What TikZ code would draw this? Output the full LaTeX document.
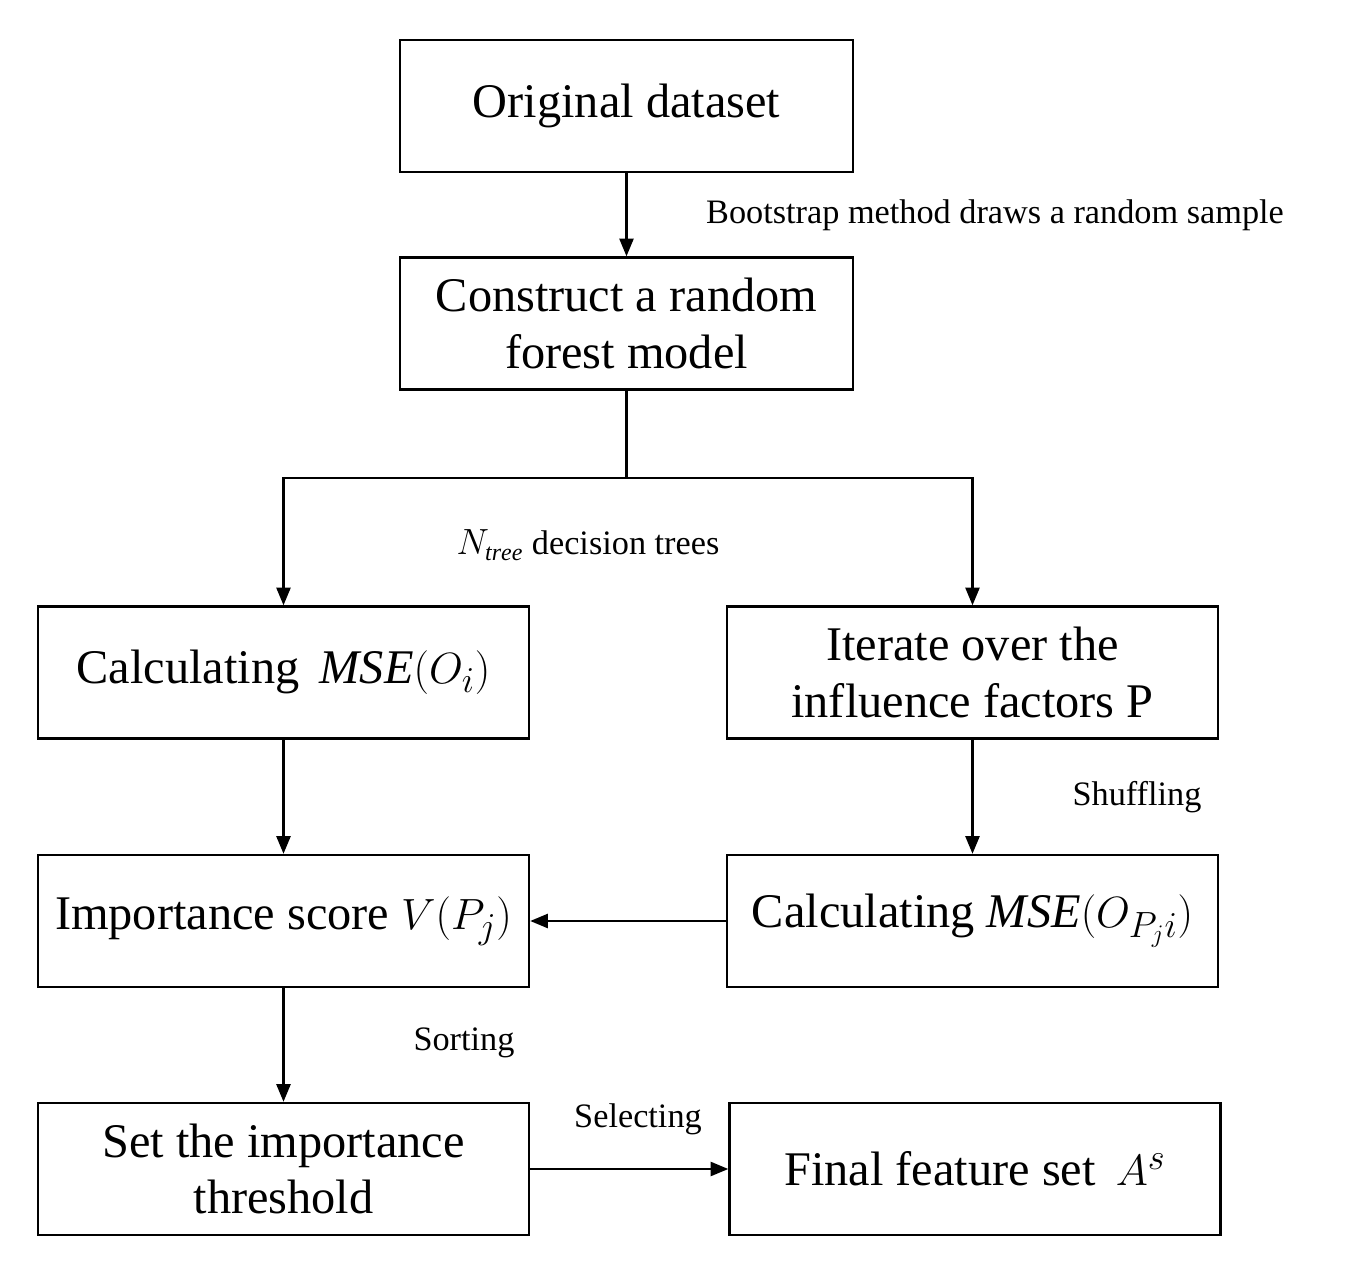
\documentclass[tikz,border=0pt]{standalone}
\usepackage{fontspec}
\setmainfont{Liberation Serif}
\usetikzlibrary{arrows.meta}
\usetikzlibrary{positioning}
\tikzset{%
    box/.style={rectangle, draw, line width=1.4pt, minimum width=9.82cm, minimum height=2.64cm, align=center, font=\fontsize{27.5}{32}\selectfont},
    lbl/.style={font=\fontsize{19.5}{23}\selectfont},
    arrow/.style={draw, line width=1.2pt, -{Triangle[length=10pt, width=8pt]}}
}
\begin{document}
\begin{tikzpicture}
            \useasboundingbox (0,0) rectangle (26.92,-25.58);

            % Top
            \node[box, minimum width=9.06cm] (orig) at (12.53, -2.12) {Original dataset};
            \node[box, minimum width=9.06cm] (rf) at (12.53, -6.47) {Construct a random\\forest model};
            \draw [arrow] (orig) -- (rf);
            \node[lbl] (boot) at (19.9, -4.3) {Bootstrap method draws a random sample};

            % Middle row
            \node[box] (mse) at (5.67, -13.45) {Calculating \,$\mathit{MSE}(O_i)$};
            \node[box] (iter) at (19.45, -13.45) {Iterate over the\\influence factors P};
            \coordinate (split) at (12.53, -9.56);
            \draw [line width=1.2pt] (rf) -- (split);
            \draw [arrow] (split) -| (mse);
            \draw [arrow] (split) -| (iter);
            \node[lbl] (ntree) at (11.76, -10.9) {$N_{\mathit{tree}}$ decision trees};

            % Scores
            \node[box] (score) at (5.67, -18.42) {Importance score $V(P_j)$};
            \node[box] (msep) at (19.45, -18.42) {Calculating $\mathit{MSE}(O_{P_j i})$};
            \draw [arrow] (mse) -- (score);
            \draw [arrow] (iter) -- (msep);
            \draw [arrow] (msep) -- (score);
            \node[lbl] (shuf) at (22.74, -15.94) {Shuffling};

            % Bottom
            \node[box] (thr) at (5.67, -23.38) {Set the importance\\threshold};
            \node[box] (fin) at (19.5, -23.38) {Final feature set \,$A^s$};
            \draw [arrow] (score) -- (thr);
            \draw [arrow] (thr) -- (fin);
            \node[lbl] (sort) at (9.28, -20.86) {Sorting};
            \node[lbl] (sel) at (12.76, -22.38) {Selecting};
\end{tikzpicture}
\end{document}
